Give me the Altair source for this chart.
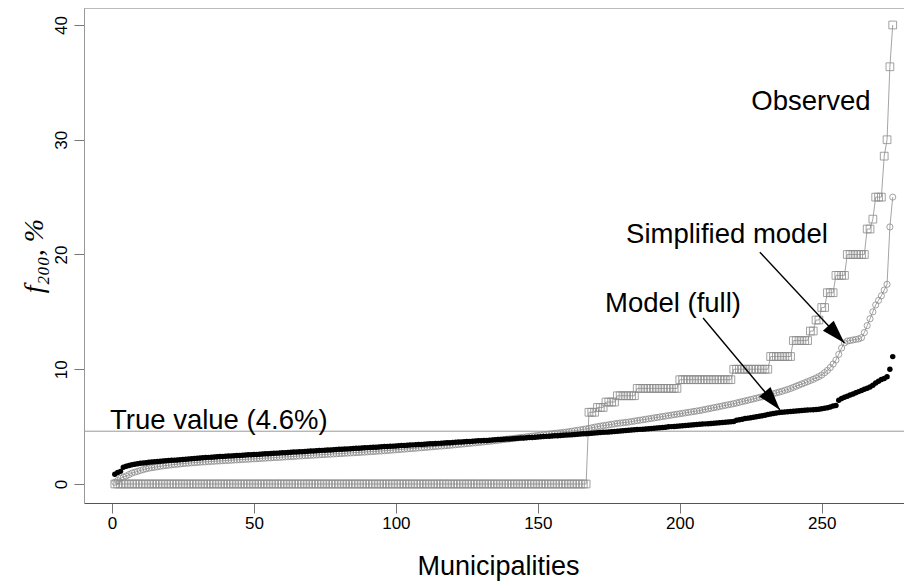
import math
import altair as alt
import pandas as pd

# ---------------- data ----------------
n_muni = 275
municipality = list(range(1, n_muni + 1))

# Observed: sorted step values (k/n fractions) and how many municipalities share each level
obs_levels = [0.0, 6.25, 6.67, 7.14, 7.69, 8.33, 9.09, 10.0, 11.11, 12.5, 13.33, 14.29,
              15.38, 16.67, 18.18, 20.0, 22.22, 23.08, 25.0, 28.57, 30.0, 36.36, 40.0]
obs_counts = [167, 3, 3, 4, 7, 15, 19, 13, 8, 6, 2, 2,
              2, 3, 4, 7, 2, 1, 3, 1, 1, 1, 1]

simplified = [
    0.15, 0.30, 0.50, 0.60, 0.70, 0.82, 0.95, 1.03, 1.10, 1.18, 1.25, 1.32, 1.38, 1.42, 1.46, 1.50, 1.54, 1.58, 1.61, 1.64,
    1.67, 1.70, 1.72, 1.75, 1.78, 1.80, 1.82, 1.84, 1.86, 1.88, 1.90, 1.92, 1.93, 1.95, 1.97, 1.98, 2.00, 2.01, 2.03, 2.04,
    2.06, 2.07, 2.09, 2.10, 2.12, 2.13, 2.15, 2.16, 2.18, 2.19, 2.21, 2.22, 2.24, 2.25, 2.27, 2.28, 2.30, 2.31, 2.33, 2.34,
    2.36, 2.37, 2.39, 2.40, 2.42, 2.44, 2.45, 2.47, 2.48, 2.50, 2.51, 2.53, 2.54, 2.56, 2.57, 2.59, 2.60, 2.62, 2.63, 2.65,
    2.66, 2.68, 2.69, 2.71, 2.72, 2.74, 2.75, 2.77, 2.78, 2.80, 2.82, 2.83, 2.85, 2.87, 2.88, 2.90, 2.92, 2.94, 2.96, 2.98,
    3.00, 3.02, 3.04, 3.06, 3.08, 3.10, 3.12, 3.14, 3.16, 3.18, 3.20, 3.22, 3.25, 3.27, 3.29, 3.31, 3.33, 3.35, 3.37, 3.40,
    3.42, 3.44, 3.47, 3.49, 3.52, 3.54, 3.57, 3.59, 3.62, 3.64, 3.67, 3.70, 3.72, 3.75, 3.78, 3.81, 3.84, 3.87, 3.90, 3.93,
    3.96, 3.99, 4.02, 4.05, 4.08, 4.11, 4.14, 4.17, 4.20, 4.23, 4.26, 4.29, 4.32, 4.35, 4.38, 4.41, 4.44, 4.47, 4.50, 4.53,
    4.56, 4.60, 4.64, 4.68, 4.72, 4.76, 4.80, 4.85, 4.90, 4.95, 5.00, 5.04, 5.08, 5.12, 5.16, 5.20, 5.24, 5.28, 5.31, 5.34,
    5.37, 5.40, 5.44, 5.48, 5.52, 5.56, 5.60, 5.64, 5.68, 5.72, 5.76, 5.80, 5.84, 5.88, 5.92, 5.96, 6.00, 6.04, 6.08, 6.12,
    6.16, 6.20, 6.24, 6.28, 6.32, 6.36, 6.40, 6.45, 6.50, 6.55, 6.60, 6.65, 6.70, 6.75, 6.80, 6.85, 6.90, 6.95, 7.00, 7.06,
    7.12, 7.18, 7.24, 7.30, 7.36, 7.42, 7.48, 7.54, 7.60, 7.66, 7.73, 7.80, 7.87, 7.94, 8.01, 8.08, 8.16, 8.24, 8.32, 8.42,
    8.52, 8.62, 8.72, 8.82, 8.92, 9.02, 9.12, 9.24, 9.36, 9.50, 9.70, 9.90, 10.15, 10.45, 10.80, 11.30, 11.85, 12.30, 12.45, 12.50,
    12.55, 12.60, 12.65, 12.75, 13.20, 13.80, 14.40, 15.00, 15.60, 16.00, 16.40, 16.90, 17.40, 22.40, 25.00,
]

full_model = [
    0.85, 1.00, 1.10, 1.45, 1.55, 1.62, 1.68, 1.72, 1.76, 1.80, 1.83, 1.86, 1.89, 1.92, 1.94, 1.96, 1.98, 2.00, 2.02, 2.04,
    2.06, 2.08, 2.10, 2.12, 2.14, 2.16, 2.18, 2.20, 2.22, 2.24, 2.26, 2.28, 2.30, 2.32, 2.34, 2.36, 2.37, 2.39, 2.40, 2.42,
    2.43, 2.45, 2.46, 2.48, 2.49, 2.51, 2.52, 2.54, 2.55, 2.57, 2.58, 2.60, 2.61, 2.63, 2.64, 2.66, 2.67, 2.69, 2.70, 2.72,
    2.73, 2.75, 2.76, 2.78, 2.79, 2.81, 2.82, 2.84, 2.85, 2.87, 2.88, 2.90, 2.91, 2.93, 2.94, 2.96, 2.97, 2.99, 3.00, 3.02,
    3.03, 3.05, 3.06, 3.08, 3.09, 3.11, 3.12, 3.14, 3.15, 3.17, 3.18, 3.20, 3.21, 3.23, 3.24, 3.26, 3.27, 3.29, 3.30, 3.32,
    3.33, 3.35, 3.36, 3.38, 3.39, 3.41, 3.42, 3.44, 3.45, 3.47, 3.48, 3.50, 3.51, 3.53, 3.54, 3.56, 3.57, 3.59, 3.60, 3.62,
    3.63, 3.65, 3.66, 3.68, 3.70, 3.71, 3.73, 3.74, 3.76, 3.77, 3.79, 3.80, 3.82, 3.84, 3.85, 3.87, 3.88, 3.90, 3.92, 3.93,
    3.95, 3.96, 3.98, 4.00, 4.01, 4.03, 4.05, 4.06, 4.08, 4.10, 4.11, 4.13, 4.15, 4.16, 4.18, 4.20, 4.21, 4.23, 4.25, 4.26,
    4.28, 4.30, 4.31, 4.33, 4.35, 4.37, 4.38, 4.40, 4.42, 4.44, 4.46, 4.48, 4.50, 4.52, 4.54, 4.56, 4.58, 4.60, 4.62, 4.64,
    4.66, 4.68, 4.70, 4.72, 4.74, 4.76, 4.78, 4.80, 4.82, 4.84, 4.86, 4.88, 4.90, 4.92, 4.95, 4.98, 5.00, 5.02, 5.04, 5.06,
    5.08, 5.10, 5.12, 5.14, 5.16, 5.18, 5.20, 5.22, 5.24, 5.26, 5.28, 5.30, 5.32, 5.34, 5.36, 5.38, 5.40, 5.42, 5.45, 5.55,
    5.60, 5.65, 5.70, 5.74, 5.78, 5.82, 5.86, 5.90, 5.95, 6.00, 6.05, 6.10, 6.14, 6.18, 6.22, 6.26, 6.28, 6.30, 6.32, 6.34,
    6.36, 6.38, 6.40, 6.42, 6.44, 6.46, 6.48, 6.50, 6.52, 6.55, 6.60, 6.65, 6.70, 6.80, 6.85, 7.30, 7.45, 7.55, 7.65, 7.75,
    7.85, 7.95, 8.05, 8.15, 8.25, 8.35, 8.45, 8.60, 8.80, 8.95, 9.10, 9.20, 9.35, 10.00, 11.10,
]

true_value = 4.6

x_ticks = [0, 50, 100, 150, 200, 250]
y_ticks = [0, 10, 20, 30, 40]

# annotations (data coordinates)
label_text = ["Observed", "Simplified model", "Model (full)"]
label_x = [246.2, 216.6, 197.6]
label_y = [32.6, 21.0, 15.0]
true_label = "True value (4.6%)"
true_label_x = -0.7
true_label_y = 4.75

arrow_x0 = [228.2, 208.2]
arrow_y0 = [20.2, 14.47]
arrow_x1 = [258.0, 235.3]
arrow_y1 = [12.29, 6.45]

# ---------------- layout ----------------
W, H = 820, 495
x_dom = [-9.86, 278.97]
y_dom = [-1.656, 41.48]
kx = W / (x_dom[1] - x_dom[0])
ky = H / (y_dom[1] - y_dom[0])

observed = []
for lv, c in zip(obs_levels, obs_counts):
    observed += [lv] * c

df = pd.DataFrame({"i": municipality, "obs": observed, "simp": simplified, "full": full_model})
lab_df = pd.DataFrame({"x": label_x, "y": label_y, "t": label_text})
true_df = pd.DataFrame({"x": [true_label_x], "y": [true_label_y], "t": [true_label]})
arr_df = pd.DataFrame({"x0": arrow_x0, "y0": arrow_y0, "x1": arrow_x1, "y1": arrow_y1})
arr_df["ang"] = [
    (math.degrees(math.atan2((a - b) * ky, (d - c) * kx)) + 360) % 360
    for a, b, c, d in zip(arr_df.y0, arr_df.y1, arr_df.x0, arr_df.x1)
]
hl_df = pd.DataFrame({"v": [true_value]})

FONT = "Liberation Sans"
GREY = "#8a8a8a"
LINEGREY = "#9a9a9a"

xscale = alt.Scale(domain=x_dom, nice=False, zero=False)
yscale = alt.Scale(domain=y_dom, nice=False, zero=False)

xaxis = alt.Axis(
    values=x_ticks, title="Municipalities", grid=False, orient="bottom",
    tickSize=10, tickColor="#777", domainColor="#555", labelFont=FONT, labelFontSize=17,
    labelColor="black", labelPadding=2, titleFont=FONT, titleFontSize=27, titleFontWeight="normal",
    titleColor="black", titleBaseline="alphabetic", titleY=71, titleX=414, titleAnchor="middle",
    labelFlush=False, labelOverlap=False,
)
yaxis = alt.Axis(
    values=y_ticks, title="f₂₀₀, %", grid=False, orient="left",
    tickSize=10, tickColor="#777", domainColor="#999", labelFont=FONT, labelFontSize=17,
    labelColor="black", labelAngle=270, labelPadding=4,
    titleFont="Liberation Serif", titleFontStyle="italic", titleFontSize=28, titleFontWeight="normal",
    titleColor="black", titleAngle=270, titleX=-50, titleY=247.5, titleAlign="center",
    titleBaseline="middle", labelFlush=False, labelOverlap=False,
)

X = lambda f: alt.X(f, type="quantitative", scale=xscale, axis=xaxis)
Y = lambda f: alt.Y(f, type="quantitative", scale=yscale, axis=yaxis)

base = alt.Chart(df)

obs_line = base.mark_line(color=LINEGREY, strokeWidth=0.9).encode(x=X("i"), y=Y("obs"))
obs_pts = base.mark_point(shape="square", size=60, filled=False, color=GREY, strokeWidth=0.8, opacity=1).encode(
    x=X("i"), y=Y("obs"))
simp_line = base.mark_line(color=LINEGREY, strokeWidth=0.9).encode(x=X("i"), y=Y("simp"))
simp_pts = base.mark_point(shape="circle", size=38, filled=False, color=GREY, strokeWidth=0.8, opacity=1).encode(
    x=X("i"), y=Y("simp"))
full_pts = base.mark_point(shape="circle", size=30, filled=True, color="black", strokeWidth=0, opacity=1).encode(
    x=X("i"), y=Y("full"))

hline = alt.Chart(hl_df).mark_rule(color="#9a9a9a", strokeWidth=1).encode(y=Y("v"))
top_frame = alt.Chart(hl_df).mark_rule(color="#999", strokeWidth=1).encode(y=alt.value(0))

labels = alt.Chart(lab_df).mark_text(font=FONT, fontSize=27.5, align="center", baseline="alphabetic",
                                     color="black").encode(x=X("x"), y=Y("y"), text="t:N")
true_lab = alt.Chart(true_df).mark_text(font=FONT, fontSize=27.5, align="left", baseline="alphabetic",
                                        color="black").encode(x=X("x"), y=Y("y"), text="t:N")

arrow_lines = alt.Chart(arr_df).mark_rule(color="black", strokeWidth=1.4).encode(
    x=X("x0"), y=Y("y0"), x2="x1", y2="y1")
HEAD = "M0,0L-2,-0.62L-2,0.62Z"
arrow_heads = alt.Chart(arr_df).mark_point(shape=HEAD, size=560, filled=True, color="black",
                                           strokeWidth=0, opacity=1).encode(
    x=X("x1"), y=Y("y1"), angle=alt.Angle("ang:Q", scale=None))

chart = alt.layer(
    hline, obs_line, obs_pts, simp_line, simp_pts, full_pts, top_frame,
    labels, true_lab, arrow_lines, arrow_heads,
).properties(
    width=W, height=H,
    autosize=alt.AutoSizeParams(type="none"),
    padding={"left": 76, "top": 0, "right": 0, "bottom": 78},
).configure_view(stroke=None).configure(background="white")

chart.save("out.html", embed_options={"renderer": "svg", "actions": False})
